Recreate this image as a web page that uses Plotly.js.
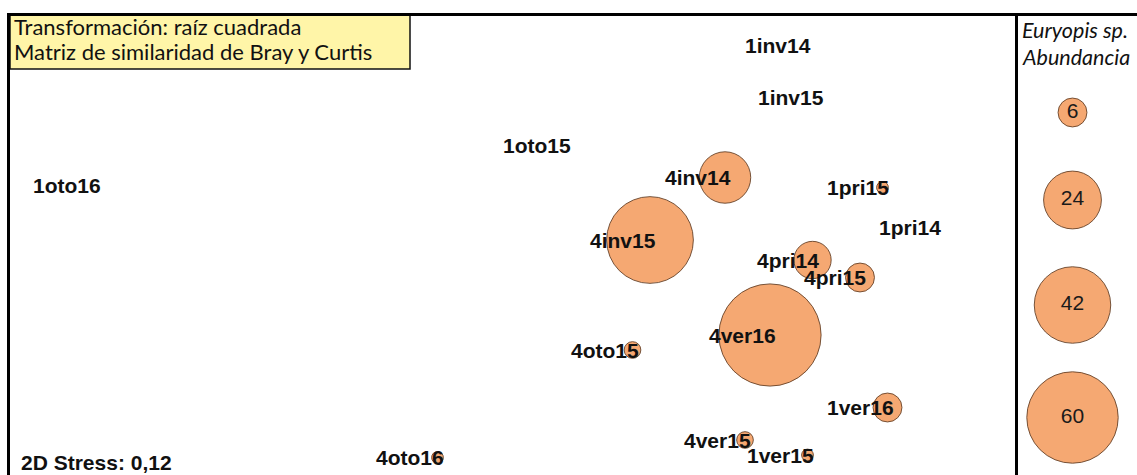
<!DOCTYPE html>
<html><head><meta charset="utf-8">
<script src="https://cdn.plot.ly/plotly-3.0.1.min.js"></script>
<style>html,body{margin:0;padding:0;background:#fff;overflow:hidden}</style>
</head><body><div id="chart" style="width:1137px;height:475px"></div>
<script>
// nMDS samples (site + season + year)
const samples = ["1inv14","1inv15","1oto15","1oto16","1pri14","1pri15","4inv14","4inv15",
                 "4pri14","4pri15","4ver16","4oto15","1ver16","4ver15","1ver15","4oto16"];
const mdsX = [1.14, 1.19, 0.18, -1.70, 1.66, 1.45, 0.82, 0.52,
              1.17, 1.36, 1.00, 0.45, 1.47, 0.90, 1.15, -0.33];
const mdsY = [0.82, 0.61, 0.42, 0.26, 0.09, 0.25, 0.29, 0.04,
              -0.04, -0.11, -0.34, -0.40, -0.63, -0.76, -0.82, -0.83];
// Euryopis sp. abundance per sample
const abundance = [0, 0, 0, 0, 0, 1, 19, 54,
                   10, 6, 75, 2, 6, 2, 1, 1];
// bubble key
const legendValues = [6, 24, 42, 60];
const legendY = [0.55, 0.20, -0.22, -0.67];
const legendX = 2.21;

const W = 1137, H = 475;
const px = v => v / W;
const py = v => 1 - v / H;

const fill = "#F5A872";
const edge = "rgba(95,60,35,0.85)";
const sizeref = 2 / (11.8 * 11.8);

const idx = abundance.map((v, i) => i).filter(i => abundance[i] > 0)
  .sort((a, b) => abundance[b] - abundance[a]);

const bubbles = {
  type: "scatter", mode: "markers",
  x: idx.map(i => mdsX[i]), y: idx.map(i => mdsY[i]),
  marker: { size: idx.map(i => abundance[i]), sizemode: "area", sizeref: sizeref,
            color: fill, line: { color: edge, width: 1 }, opacity: 1 },
  hoverinfo: "skip", showlegend: false, cliponaxis: false
};

const key = {
  type: "scatter", mode: "markers+text",
  x: legendValues.map(() => legendX), y: legendY,
  text: legendValues.map(String), textposition: "middle center",
  textfont: { family: "Liberation Sans, Arial, sans-serif", size: 21, color: "#1a1a1a" },
  marker: { size: legendValues, sizemode: "area", sizeref: sizeref, opacity: 1,
            color: fill, line: { color: edge, width: 1 } },
  hoverinfo: "skip", showlegend: false, cliponaxis: false
};

const labelFont = { family: "Liberation Sans, Arial, sans-serif", size: 21, color: "#111", weight: "bold" };
const annotations = samples.map((s, i) => ({
  x: mdsX[i], y: mdsY[i], xref: "x", yref: "y", text: s, showarrow: false,
  xanchor: "right", yanchor: "middle", xshift: 8, font: labelFont
}));

const boxFont = { family: "Lato, Carlito, sans-serif", size: 22, color: "#111" };
const keyFont = { family: "Lato, Carlito, sans-serif", size: 21.5, color: "#111" };
annotations.push(
  { xref: "paper", yref: "paper", x: px(12), y: py(26), xanchor: "left", yanchor: "middle",
    text: "Transformación: raíz cuadrada", showarrow: false, font: boxFont },
  { xref: "paper", yref: "paper", x: px(12), y: py(52), xanchor: "left", yanchor: "middle",
    text: "Matriz de similaridad de Bray y Curtis", showarrow: false, font: boxFont },
  { xref: "paper", yref: "paper", x: px(1020), y: py(30), xanchor: "left", yanchor: "middle",
    text: "<i>Euryopis sp.</i>", showarrow: false, font: keyFont },
  { xref: "paper", yref: "paper", x: px(1020), y: py(57), xanchor: "left", yanchor: "middle",
    text: "<i>Abundancia</i>", showarrow: false, font: keyFont },
  { xref: "paper", yref: "paper", x: px(19), y: py(462), xanchor: "left", yanchor: "middle",
    text: "2D Stress: 0,12", showarrow: false, font: labelFont }
);

const shapes = [
  { type: "rect", xref: "paper", yref: "paper", x0: px(10), x1: px(410), y0: py(14), y1: py(69),
    fillcolor: "#FFF5A8", line: { color: "#111", width: 1.5 }, layer: "below" },
  { type: "line", xref: "paper", yref: "paper", x0: px(8.5), x1: px(8.5), y0: py(13), y1: 0,
    line: { color: "#000", width: 3 } },
  { type: "line", xref: "paper", yref: "paper", x0: px(7), x1: 1, y0: py(14.5), y1: py(14.5),
    line: { color: "#000", width: 3 } },
  { type: "line", xref: "paper", yref: "paper", x0: px(1016.5), x1: px(1016.5), y0: py(13), y1: 0,
    line: { color: "#000", width: 3 } }
];

const axisCommon = { visible: false, showgrid: false, zeroline: false, fixedrange: true };
const layout = {
  width: W, height: H, margin: { l: 0, r: 0, t: 0, b: 0 },
  paper_bgcolor: "#fff", plot_bgcolor: "#fff",
  xaxis: Object.assign({ range: [-2.08, 2.468] }, axisCommon),
  yaxis: Object.assign({ range: [-0.9, 1.0] }, axisCommon),
  annotations: annotations, shapes: shapes, showlegend: false, hovermode: false
};

Plotly.newPlot("chart", [bubbles, key], layout, { staticPlot: true, displayModeBar: false });
</script>
</body></html>
